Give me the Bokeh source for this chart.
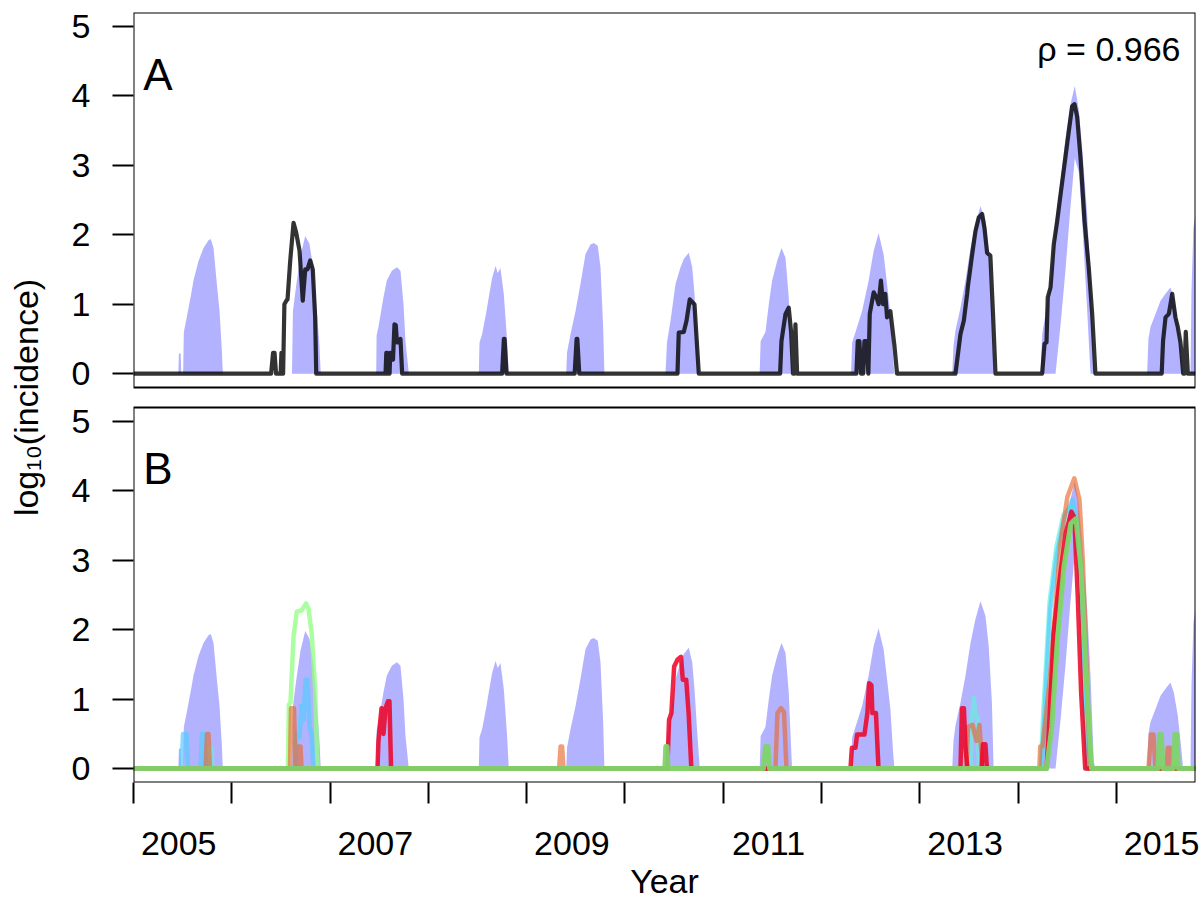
from bokeh.plotting import figure
from bokeh.models import Range1d, FixedTicker, CustomJSTickFormatter, BoxAnnotation, Label
from bokeh.embed import file_html
from bokeh.resources import INLINE

FONT = "Liberation Sans"

# ---------------- data ----------------
year_ticks = list(range(2005, 2016))
year_labels = [2005, 2007, 2009, 2011, 2013, 2015]
y_ticks = [0, 1, 2, 3, 4, 5]
rho_text = "\u03c1 = 0.966"

# model prediction band (shared by panels A and B)
band_t = [2005.0,
          2005.456, 2005.462, 2005.480, 2005.486,
          2005.505, 2005.512, 2005.542, 2005.592, 2005.610, 2005.661, 2005.712, 2005.763, 2005.786, 2005.814, 2005.848, 2005.875, 2005.899, 2005.909,
          2006.612, 2006.622, 2006.658, 2006.699, 2006.747, 2006.790, 2006.831, 2006.865, 2006.892, 2006.905,
          2007.469, 2007.473, 2007.492, 2007.543, 2007.577, 2007.628, 2007.680, 2007.716, 2007.747, 2007.767, 2007.801,
          2008.513, 2008.520, 2008.547, 2008.591, 2008.614, 2008.649, 2008.683, 2008.706, 2008.733, 2008.767, 2008.801, 2008.818,
          2009.402, 2009.410, 2009.446, 2009.497, 2009.547, 2009.598, 2009.649, 2009.683, 2009.723, 2009.751, 2009.778, 2009.791,
          2010.412, 2010.427, 2010.463, 2010.514, 2010.565, 2010.598, 2010.649, 2010.684, 2010.707, 2010.735, 2010.761,
          2011.370, 2011.380, 2011.429, 2011.463, 2011.497, 2011.548, 2011.592, 2011.633, 2011.666, 2011.690, 2011.700,
          2012.300, 2012.311, 2012.361, 2012.412, 2012.479, 2012.530, 2012.580, 2012.631, 2012.666, 2012.700, 2012.727, 2012.741,
          2013.329, 2013.342, 2013.362, 2013.413, 2013.464, 2013.515, 2013.565, 2013.616, 2013.667, 2013.700, 2013.733, 2013.750,
          2014.227, 2014.244, 2014.278, 2014.329, 2014.380, 2014.431, 2014.482, 2014.532, 2014.576, 2014.617, 2014.651, 2014.702, 2014.736, 2014.769, 2014.786,
          2015.312, 2015.325, 2015.346, 2015.397, 2015.448, 2015.499, 2015.549, 2015.583, 2015.624, 2015.651, 2015.679,
          2015.753, 2015.763, 2015.783, 2015.804]
band_hi = [0,
           0, 0.29, 0.29, 0,
           0, 0.6, 0.81, 1.19, 1.34, 1.62, 1.81, 1.92, 1.94, 1.81, 1.29, 0.91, 0.33, 0,
           0, 0.9, 1.3, 1.7, 1.98, 1.87, 1.5, 0.9, 0.4, 0,
           0, 0.55, 0.67, 1.1, 1.34, 1.48, 1.53, 1.48, 1.0, 0.47, 0,
           0, 0.45, 0.57, 0.9, 1.1, 1.38, 1.55, 1.45, 1.52, 1.15, 0.47, 0,
           0, 0.3, 0.57, 0.9, 1.29, 1.72, 1.86, 1.88, 1.84, 1.53, 0.67, 0,
           0, 0.45, 0.76, 1.29, 1.53, 1.65, 1.74, 1.53, 1.15, 0.52, 0,
           0, 0.47, 0.6, 1.0, 1.34, 1.62, 1.81, 1.67, 1.1, 0.3, 0,
           0, 0.45, 0.67, 0.9, 1.34, 1.77, 2.02, 1.72, 1.29, 0.86, 0.25, 0,
           0, 0.4, 0.62, 0.95, 1.34, 1.81, 2.15, 2.41, 2.2, 1.77, 0.95, 0,
           0, 0.57, 0.86, 1.34, 2.2, 2.77, 3.4, 3.88, 4.14, 3.8, 3.25, 2.3, 1.34, 0.1, 0,
           0, 0.5, 0.67, 0.86, 1.05, 1.15, 1.24, 1.1, 0.76, 0.4, 0,
           0, 1.2, 2.1, 2.3]
band_lo = [0,
           0, 0, 0, 0,
           0, 0, 0, 0, 0, 0, 0, 0, 0, 0, 0, 0, 0, 0,
           0, 0, 0, 0, 0, 0, 0, 0, 0, 0,
           0, 0, 0, 0, 0, 0, 0, 0, 0, 0, 0,
           0, 0, 0, 0, 0, 0, 0, 0, 0, 0, 0, 0,
           0, 0, 0, 0, 0, 0, 0, 0, 0, 0, 0, 0,
           0, 0, 0, 0, 0, 0, 0, 0, 0, 0, 0,
           0, 0, 0, 0, 0, 0, 0, 0, 0, 0, 0,
           0, 0, 0, 0, 0, 0, 0, 0, 0, 0, 0, 0,
           0, 0, 0, 0, 0, 0, 0, 0, 0, 0, 0, 0,
           0, 0, 0, 0, 0, 0.7, 1.5, 2.4, 3.1, 2.9, 2.2, 0.9, 0, 0, 0,
           0, 0, 0, 0, 0, 0, 0, 0, 0, 0, 0,
           0, 0, 0, 0]

# observed incidence (panel A, dark line)
obs_t = [2005.0,
         2006.400, 2006.420, 2006.435, 2006.450,
         2006.497, 2006.505, 2006.515, 2006.522, 2006.535, 2006.555, 2006.567, 2006.594, 2006.628, 2006.655, 2006.689, 2006.722, 2006.747, 2006.770, 2006.798, 2006.824, 2006.848, 2006.859,
         2007.564, 2007.572, 2007.582, 2007.590, 2007.605, 2007.612, 2007.625, 2007.640, 2007.655, 2007.668, 2007.680, 2007.700, 2007.716, 2007.733,
         2008.750, 2008.768, 2008.775, 2008.795,
         2009.488, 2009.508, 2009.515, 2009.535,
         2010.534, 2010.547, 2010.598, 2010.626, 2010.659, 2010.684, 2010.707, 2010.728, 2010.751,
         2011.578, 2011.592, 2011.633, 2011.666, 2011.690, 2011.710, 2011.722, 2011.734, 2011.751,
         2012.354, 2012.368, 2012.385, 2012.402, 2012.422, 2012.436, 2012.456, 2012.476, 2012.490, 2012.530, 2012.558, 2012.580, 2012.604, 2012.625, 2012.648, 2012.666, 2012.700, 2012.741, 2012.768,
         2013.362, 2013.413, 2013.447, 2013.481, 2013.488, 2013.532, 2013.565, 2013.599, 2013.633, 2013.657, 2013.684, 2013.717, 2013.744, 2013.769,
         2014.244, 2014.268, 2014.288, 2014.301, 2014.329, 2014.362, 2014.397, 2014.431, 2014.471, 2014.515, 2014.549, 2014.573, 2014.600, 2014.634, 2014.675, 2014.718, 2014.753, 2014.786,
         2015.460, 2015.474, 2015.499, 2015.533, 2015.567, 2015.600, 2015.624, 2015.651, 2015.679, 2015.692, 2015.705, 2015.726, 2015.804]
obs_y = [0,
         0, 0.3, 0.3, 0,
         0, 0.3, 0.3, 0, 1.0, 1.05, 1.07, 1.62, 2.17, 2.03, 1.77, 1.05, 1.5, 1.5, 1.63, 1.5, 0.81, 0,
         0, 0.3, 0.3, 0, 0, 0.3, 0.3, 0.2, 0.71, 0.7, 0.45, 0.45, 0.5, 0,
         0, 0.5, 0.5, 0,
         0, 0.5, 0.5, 0,
         0, 0.59, 0.6, 0.76, 1.07, 1.03, 1.0, 0.52, 0,
         0, 0.47, 0.86, 0.95, 0.6, 0, 0, 0.71, 0,
         0, 0.47, 0.47, 0, 0, 0.47, 0.47, 0, 0.86, 1.17, 1.1, 1.0, 1.34, 1.0, 1.15, 0.81, 0.9, 0.4, 0,
         0, 0.57, 0.76, 1.15, 1.25, 1.72, 2.05, 2.25, 2.3, 2.1, 1.74, 1.7, 0.86, 0,
         0, 0.43, 0.45, 1.1, 1.24, 1.86, 2.2, 2.58, 3.01, 3.49, 3.85, 3.88, 3.7, 3.11, 2.2, 1.53, 0.86, 0,
         0, 0.47, 0.81, 0.86, 1.15, 0.81, 0.67, 0.45, 0, 0, 0.6, 0, 0]

# panel B: model runs
red_t = [2005.0,
         2007.482, 2007.492, 2007.523, 2007.543, 2007.564, 2007.589, 2007.604, 2007.620,
         2010.431, 2010.448, 2010.472, 2010.500, 2010.535, 2010.570, 2010.588, 2010.623, 2010.648, 2010.675,
         2012.294, 2012.308, 2012.345, 2012.361, 2012.436, 2012.466, 2012.483, 2012.507, 2012.517, 2012.553, 2012.579,
         2013.413, 2013.428, 2013.448, 2013.464, 2013.484, 2013.627, 2013.642, 2013.667, 2013.682,
         2014.289, 2014.318, 2014.360, 2014.412, 2014.483, 2014.542, 2014.571, 2014.605, 2014.641, 2014.682,
         2015.804]
red_y = [0,
         0, 0.4, 0.87, 0.5, 0.87, 0.97, 0.97, 0,
         0, 0.7, 0.8, 1.47, 1.57, 1.61, 1.28, 1.28, 0.78, 0,
         0, 0.3, 0.3, 0.49, 0.49, 0.8, 1.23, 1.2, 0.8, 0.8, 0,
         0, 0.87, 0.87, 0.3, 0, 0, 0.35, 0.35, 0,
         0, 0.7, 1.95, 2.62, 3.39, 3.7, 3.62, 2.52, 1.08, 0,
         0]

orange_t = [2005.0,
            2005.733, 2005.748, 2005.763, 2005.778,
            2006.592, 2006.602, 2006.633, 2006.648,
            2006.663, 2006.673, 2006.699, 2006.709,
            2009.330, 2009.345, 2009.360, 2009.375,
            2011.531, 2011.551, 2011.587, 2011.617, 2011.643,
            2013.474, 2013.489, 2013.535, 2013.576, 2013.606, 2013.637,
            2014.215, 2014.225, 2014.245, 2014.255, 2014.325, 2014.377, 2014.430, 2014.500, 2014.571, 2014.624, 2014.658, 2014.694, 2014.728,
            2015.325, 2015.351, 2015.376, 2015.397,
            2015.508, 2015.523, 2015.543, 2015.559,
            2015.804]
orange_y = [0,
            0, 0.5, 0.5, 0,
            0, 0.87, 0.87, 0,
            0, 0.32, 0.32, 0,
            0, 0.32, 0.32, 0,
            0, 0.8, 0.87, 0.82, 0,
            0, 0.6, 0.63, 0.4, 0.63, 0,
            0, 0.32, 0.32, 0.4, 1.33, 2.28, 3.24, 3.91, 4.18, 3.87, 3.0, 1.57, 0,
            0, 0.49, 0.49, 0,
            0, 0.3, 0.3, 0,
            0]

cyan_t = [2005.0,
          2005.488, 2005.504, 2005.539, 2005.555,
          2005.682, 2005.697, 2005.722, 2005.738,
          2006.648, 2006.658, 2006.689, 2006.709, 2006.730, 2006.750, 2006.770, 2006.790, 2006.811, 2006.831,
          2014.237, 2014.261, 2014.325, 2014.396, 2014.465, 2014.552, 2014.605, 2014.658, 2014.704,
          2015.804]
cyan_y = [0,
          0, 0.5, 0.5, 0,
          0, 0.5, 0.5, 0,
          0, 0.5, 0.45, 0.9, 0.7, 1.28, 1.28, 0.6, 0.5, 0,
          0, 0.6, 2.28, 3.1, 3.58, 3.87, 3.5, 2.05, 0,
          0]

lime_t = [2005.0, 2006.571, 2006.581, 2006.597, 2006.628, 2006.661, 2006.712, 2006.756, 2006.780, 2006.813, 2006.848, 2006.872,
          2014.285, 2014.340, 2014.400, 2014.470, 2014.540, 2014.590, 2014.640, 2014.690, 2014.740,
          2015.804]
lime_y = [0, 0, 0.92, 0.95, 1.9, 2.26, 2.28, 2.38, 2.3, 1.95, 1.13, 0,
          0, 0.7, 1.9, 2.95, 3.5, 3.55, 2.8, 1.3, 0,
          0]

aqua_t = [2005.0, 2005.753, 2005.768, 2005.789, 2005.804,
          2013.515, 2013.530, 2013.550, 2013.565, 2013.586, 2013.601,
          2014.230, 2014.255, 2014.320, 2014.390, 2014.460, 2014.550, 2014.600, 2014.650, 2014.700,
          2015.804]
aqua_y = [0, 0, 0.3, 0.3, 0,
          0, 0.75, 1.02, 0.75, 0.75, 0,
          0, 0.8, 2.4, 3.2, 3.65, 3.8, 3.4, 2.0, 0,
          0]

green_t = [2005.0,
           2010.405, 2010.415, 2010.428, 2010.438,
           2011.409, 2011.429, 2011.455, 2011.470,
           2014.289, 2014.342, 2014.396, 2014.465, 2014.535, 2014.588, 2014.641, 2014.694, 2014.746,
           2015.422, 2015.437, 2015.458, 2015.473,
           2015.579, 2015.594, 2015.615, 2015.630,
           2015.804]
green_y = [0,
           0, 0.32, 0.32, 0,
           0, 0.32, 0.32, 0,
           0, 0.6, 1.8, 2.9, 3.53, 3.6, 2.85, 1.31, 0,
           0, 0.49, 0.49, 0,
           0, 0.49, 0.49, 0,
           0]

# ---------------- layout ----------------
OFF = 5.6875          # panel A sits above panel B in one shared frame
X0, X1 = 2005.0, 2015.804
Y0, Y1 = -0.2, OFF + 5.2

p = figure(width=1200, height=905, output_backend="svg", toolbar_location=None,
           x_range=Range1d(X0, X1), y_range=Range1d(Y0, Y1),
           min_border_left=133, min_border_right=5, min_border_top=12, min_border_bottom=123)
p.outline_line_color = None
p.xgrid.visible = False
p.ygrid.visible = False
p.background_fill_color = "white"
p.border_fill_color = "white"

def up(vals):
    return [v + OFF for v in vals]

# panel A
p.varea(x=band_t, y1=up(band_lo), y2=up(band_hi), fill_color="blue", fill_alpha=0.3)
p.line(obs_t, up(obs_y), line_color="black", line_alpha=0.8, line_width=4.2, line_join="round")

# panel B
p.varea(x=band_t, y1=band_lo, y2=band_hi, fill_color="blue", fill_alpha=0.3)
series = [
    (lime_t, lime_y, "#90ff80", 0.75, 4.5),
    (aqua_t, aqua_y, "#66eedd", 0.7, 4.5),
    (cyan_t, cyan_y, "#55ccff", 0.7, 4.5),
    (orange_t, orange_y, "#e86a30", 0.65, 4.5),
    (red_t, red_y, "#ee0022", 0.85, 4.5),
    (green_t, green_y, "#80d46c", 0.95, 5),
]
for t, y, c, a, w in series:
    p.line(t, y, line_color=c, line_alpha=a, line_width=w, line_join="round")

# panel boxes
for lo_, hi_ in [(OFF - 0.2, OFF + 5.2), (-0.2, 5.2)]:
    p.add_layout(BoxAnnotation(left=X0, right=X1, bottom=lo_, top=hi_,
                               fill_alpha=0, line_color="black", line_alpha=1.0, line_width=2))

# axes
yax = p.yaxis[0]
yax.ticker = FixedTicker(ticks=y_ticks + [t + OFF for t in y_ticks])
yax.formatter = CustomJSTickFormatter(args=dict(off=OFF),
                                      code="const v = tick > 5.3 ? tick - off : tick; return v.toFixed(0);")
yax.axis_line_color = None
yax.major_tick_out = 21
yax.major_tick_in = 0
yax.major_tick_line_width = 2
yax.major_tick_line_color = "black"
yax.minor_tick_line_color = None
yax.major_label_standoff = 22
yax.major_label_text_font = FONT
yax.major_label_text_font_size = "34px"
yax.major_label_text_color = "black"
yax.axis_label = "log\u2081\u2080(incidence)"
yax.axis_label_text_font = FONT
yax.axis_label_text_font_size = "34px"
yax.axis_label_text_font_style = "normal"
yax.axis_label_text_color = "black"
yax.axis_label_standoff = 24

xax = p.xaxis[0]
xax.ticker = FixedTicker(ticks=[y + 0.46 for y in year_labels], minor_ticks=year_ticks)
xax.formatter = CustomJSTickFormatter(code="return Math.floor(tick).toFixed(0);")
xax.axis_line_color = None
xax.major_tick_out = 21
xax.major_tick_in = 0
xax.major_tick_line_color = None
xax.minor_tick_out = 21
xax.minor_tick_in = 0
xax.minor_tick_line_color = "black"
xax.minor_tick_line_width = 2
xax.major_label_standoff = 28
xax.major_label_text_font = FONT
xax.major_label_text_font_size = "34px"
xax.major_label_text_color = "black"
xax.axis_label = "Year"
xax.axis_label_text_font = FONT
xax.axis_label_text_font_size = "34px"
xax.axis_label_text_font_style = "normal"
xax.axis_label_text_color = "black"
xax.axis_label_standoff = 4

# panel letters and correlation
p.add_layout(Label(x=2005.10, y=OFF + 4.31, text="A", text_font=FONT, text_font_size="44px",
                   text_align="left", text_baseline="alphabetic", text_color="black"))
p.add_layout(Label(x=2005.10, y=4.32, text="B", text_font=FONT, text_font_size="44px",
                   text_align="left", text_baseline="alphabetic", text_color="black"))
p.add_layout(Label(x=2015.651, y=OFF + 4.67, text=rho_text, text_font=FONT, text_font_size="34px",
                   text_align="right", text_baseline="alphabetic", text_color="black"))

open("out.html", "w").write(file_html(p, INLINE))
